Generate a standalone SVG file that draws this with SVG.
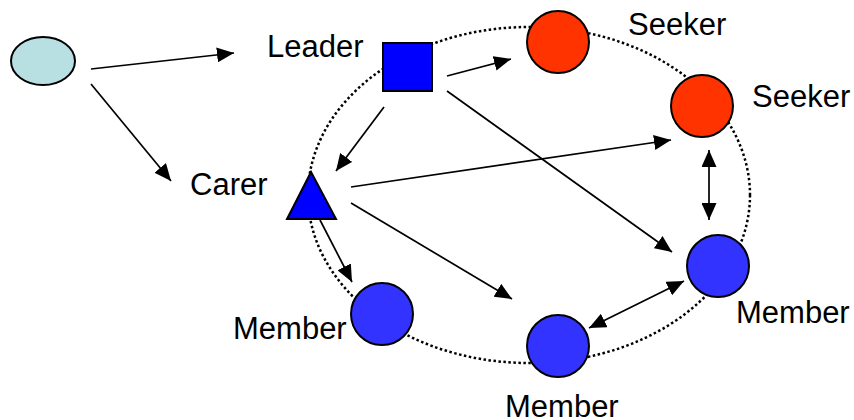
<svg xmlns="http://www.w3.org/2000/svg" width="854" height="420" viewBox="0 0 854 420">
<defs>
<marker id="ah" markerUnits="userSpaceOnUse" markerWidth="17" markerHeight="15" refX="17" refY="7.5" orient="auto-start-reverse" viewBox="0 0 17 15">
<path d="M0,0 L17,7.5 L0,15 z" fill="#000"/>
</marker>
<style>
.lbl{font-family:"Liberation Sans",Arial,sans-serif;font-size:31px;fill:#000}
.node{stroke:#000;stroke-width:2}
.ring{fill:none;stroke:#000;stroke-width:2.5;stroke-dasharray:2.5 2.5}
.conn line{stroke:#000;stroke-width:1.7;fill:none}
.one{marker-end:url(#ah)}
.two{marker-start:url(#ah);marker-end:url(#ah)}
</style>
</defs>
<rect width="854" height="420" fill="#fff"/>
<ellipse class="ring" cx="529" cy="195" rx="221" ry="168"/>
<g id="connectors" class="conn">
<line class="one" x1="91" y1="69" x2="234" y2="53"/>
<line class="one" x1="91" y1="84" x2="171" y2="181"/>
<line class="one" x1="447" y1="76" x2="511" y2="59"/>
<line class="one" x1="384" y1="107" x2="336" y2="171"/>
<line class="one" x1="447" y1="91" x2="672" y2="252"/>
<line class="one" x1="351" y1="187" x2="671" y2="140"/>
<line class="one" x1="351" y1="203" x2="512" y2="299"/>
<line class="one" x1="320" y1="220" x2="352" y2="282"/>
<line class="two" x1="709" y1="150" x2="709" y2="220"/>
<line class="two" x1="684" y1="281" x2="589" y2="328"/>
</g>
<g id="source"><ellipse class="node" cx="43" cy="61" rx="32" ry="24" fill="#B8E0E2"/></g>
<g id="leader"><rect class="node" x="383" y="43" width="49" height="48" fill="#0000FF"/><text class="lbl" x="267" y="57">Leader</text></g>
<g id="carer"><polygon class="node" points="311,172 287,219 336,219" fill="#0000FF"/><text class="lbl" x="190" y="195">Carer</text></g>
<g id="seeker1"><circle class="node" cx="558" cy="42" r="31" fill="#FF3300"/><text class="lbl" x="628" y="35">Seeker</text></g>
<g id="seeker2"><circle class="node" cx="702" cy="106" r="31" fill="#FF3300"/><text class="lbl" x="752" y="107">Seeker</text></g>
<g id="member-right"><circle class="node" cx="718" cy="266" r="31" fill="#3333FF"/><text class="lbl" x="736" y="323">Member</text></g>
<g id="member-bottom"><circle class="node" cx="558" cy="346" r="31" fill="#3333FF"/><text class="lbl" x="505" y="417">Member</text></g>
<g id="member-left"><circle class="node" cx="382" cy="314" r="31" fill="#3333FF"/><text class="lbl" x="233" y="339">Member</text></g>
</svg>
